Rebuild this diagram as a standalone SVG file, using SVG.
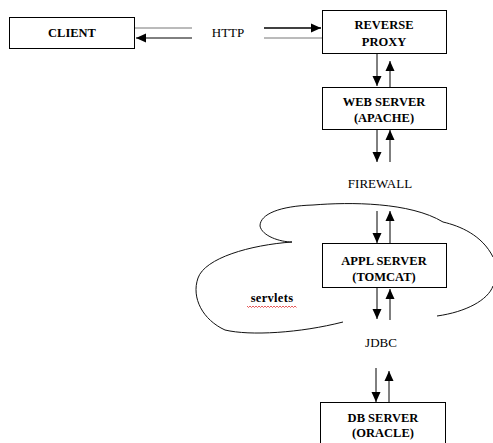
<svg xmlns="http://www.w3.org/2000/svg" width="493" height="443" viewBox="0 0 493 443">
<style>
.box{fill:#fff;stroke:#000;stroke-width:1}
.lbl{font-family:"Liberation Serif","Times New Roman",serif;font-weight:bold;font-size:12.5px;text-anchor:middle;fill:#000}
.plain{font-family:"Liberation Serif","Times New Roman",serif;font-size:13px;text-anchor:middle;fill:#000}
.ln{stroke:#000;stroke-width:1;fill:none}
.cloud{stroke:#111;stroke-width:1;fill:none}
</style>
<defs>
<marker id="ah" markerUnits="userSpaceOnUse" markerWidth="10" markerHeight="10" refX="10" refY="4.5" orient="auto" viewBox="0 0 10 9">
<path d="M0,0 L10,4.5 L0,9 z" fill="#000"/>
</marker>
</defs>
<g id="cloud">
<path class="cloud" d="M292,242 C280,242 262,236 260,226 C260,214 280,206 313,205 C350,202 410,202 443,222 C460,226 482,235 493,257"/>
<path class="cloud" d="M493,286 C488,300 466,312 437,316"/>
<path class="cloud" d="M292,242 C250,245 205,258 198,278 C191,298 203,320 225,330 C250,336 300,333 343,322"/>
</g>
<g id="connectors">
<line x1="135" y1="28" x2="192" y2="28" stroke="#777" stroke-width="1"/>
<line class="ln" x1="192" y1="38" x2="136" y2="38" marker-end="url(#ah)"/>
<line x1="264" y1="28" x2="321" y2="28" stroke="#000" stroke-width="1.5" marker-end="url(#ah)"/>
<line x1="264" y1="38" x2="322" y2="38" stroke="#777" stroke-width="1"/>
<line class="ln" x1="377" y1="53" x2="377" y2="86" marker-end="url(#ah)"/>
<line class="ln" x1="390" y1="87" x2="390" y2="61" marker-end="url(#ah)"/>
<line class="ln" x1="377" y1="129" x2="377" y2="162" marker-end="url(#ah)"/>
<line class="ln" x1="390" y1="162" x2="390" y2="130" marker-end="url(#ah)"/>
<line class="ln" x1="377" y1="211" x2="377" y2="243" marker-end="url(#ah)"/>
<line class="ln" x1="390" y1="243" x2="390" y2="211" marker-end="url(#ah)"/>
<line class="ln" x1="377" y1="288" x2="377" y2="319" marker-end="url(#ah)"/>
<line class="ln" x1="390" y1="320" x2="390" y2="289" marker-end="url(#ah)"/>
<line class="ln" x1="376" y1="368" x2="376" y2="402" marker-end="url(#ah)"/>
<line class="ln" x1="389" y1="402" x2="389" y2="371" marker-end="url(#ah)"/>
</g>
<g id="client">
<rect class="box" x="9.5" y="17.5" width="125" height="31"/>
<text class="lbl" x="72" y="37" font-size="12">CLIENT</text>
</g>
<g id="http"><text class="plain" x="228" y="37">HTTP</text></g>
<g id="reverse-proxy">
<rect class="box" x="322.5" y="10.5" width="124" height="43"/>
<text class="lbl" x="384" y="29">REVERSE</text>
<text class="lbl" x="384" y="46">PROXY</text>
</g>
<g id="web-server">
<rect class="box" x="322.5" y="87.5" width="124" height="42"/>
<text class="lbl" x="384" y="106">WEB SERVER</text>
<text class="lbl" x="384" y="122">(APACHE)</text>
</g>
<g id="firewall"><text class="plain" x="380" y="188">FIREWALL</text></g>
<g id="appl-server">
<rect class="box" x="322.5" y="243.5" width="124" height="44"/>
<text class="lbl" x="384" y="265">APPL SERVER</text>
<text class="lbl" x="384" y="281">(TOMCAT)</text>
</g>
<g id="servlets">
<text class="lbl" x="272" y="302" font-size="16" letter-spacing="0.3">servlets</text>
<path d="M247,306 l1.5,1.5 l1.5,-1.5 l1.5,1.5 l1.5,-1.5 l1.5,1.5 l1.5,-1.5 l1.5,1.5 l1.5,-1.5 l1.5,1.5 l1.5,-1.5 l1.5,1.5 l1.5,-1.5 l1.5,1.5 l1.5,-1.5 l1.5,1.5 l1.5,-1.5 l1.5,1.5 l1.5,-1.5 l1.5,1.5 l1.5,-1.5 l1.5,1.5 l1.5,-1.5 l1.5,1.5 l1.5,-1.5 l1.5,1.5 l1.5,-1.5 l1.5,1.5 l1.5,-1.5 l1.5,1.5 l1.5,-1.5 l1.5,1.5 l1.5,-1.5 l1.5,1.5" fill="none" stroke="#e03030" stroke-width="0.8"/>
</g>
<g id="jdbc"><text class="plain" x="381" y="347">JDBC</text></g>
<g id="db-server">
<rect class="box" x="320.5" y="402.5" width="125" height="45"/>
<text class="lbl" x="383" y="422">DB SERVER</text>
<text class="lbl" x="383" y="437">(ORACLE)</text>
</g>
</svg>
